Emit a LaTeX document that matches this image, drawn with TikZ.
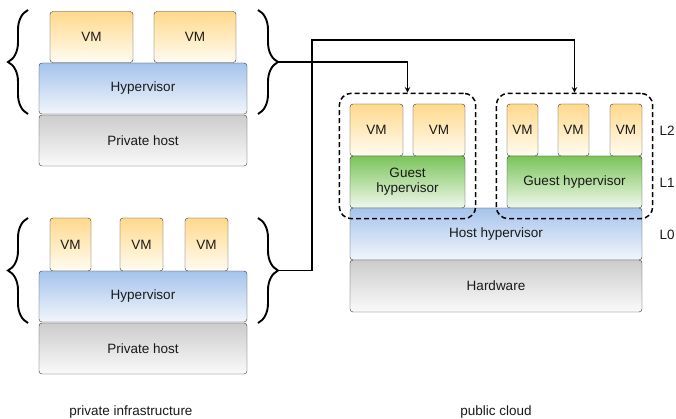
\documentclass[tikz,border=0pt]{standalone}
\usepackage{fontspec}
\setmainfont{Liberation Sans}
\usetikzlibrary{fit,decorations.pathreplacing}

\definecolor{vmtop}{HTML}{FFD98C}
\definecolor{vmbot}{HTML}{FFFCF2}
\definecolor{hyptop}{HTML}{A6C3EC}
\definecolor{hypbot}{HTML}{F2F6FC}
\definecolor{hosttop}{HTML}{CCCCCC}
\definecolor{hostbot}{HTML}{FAFAFA}
\definecolor{guesttop}{HTML}{7BC45A}
\definecolor{guestbot}{HTML}{F0F8EC}

\begin{document}
\begin{tikzpicture}[
    x=1pt, y=-1pt,
    every node/.style={font=\fontsize{13.5}{15}\selectfont, text=black!90},
    block/.style={rectangle, draw=black!80, rounded corners=3pt, align=center, inner sep=0pt, minimum height=51pt},
    vm/.style={block, top color=vmtop, bottom color=vmbot},
    hyp/.style={block, top color=hyptop, bottom color=hypbot},
    host/.style={block, top color=hosttop, bottom color=hostbot},
    guest/.style={block, top color=guesttop, bottom color=guestbot},
    dashbox/.style={draw, dash pattern=on 5pt off 3pt, line width=1.5pt, rounded corners=12pt, inner sep=10.5pt},
    curly/.style={decorate, decoration={brace, amplitude=20pt}, line width=1.9pt},
    arrow/.style={->, >=stealth, line width=1.4pt}
]
\useasboundingbox (0,0) rectangle (676,419);

% Top group: private host with two VMs
\node[vm, minimum width=83pt] (vma1) at (91.5,37) {VM};
\node[vm, minimum width=82pt] (vma2) at (195,37) {VM};
\node[hyp, minimum width=208pt] (hypa) at (143,88.5) {Hypervisor};
\node[host, minimum width=208pt] (hosta) at (143,140.5) {Private host};
\draw[curly] (28,114) -- (28,10);
\draw[curly] (258,10) -- (258,114);
\coordinate (tipa) at (278,62);

% Bottom group: private host with three VMs
\node[vm, minimum width=41pt, minimum height=53pt] (vmb1) at (70.5,244.5) {VM};
\node[vm, minimum width=43pt, minimum height=53pt] (vmb2) at (141.5,244.5) {VM};
\node[vm, minimum width=43pt, minimum height=53pt] (vmb3) at (206.5,244.5) {VM};
\node[hyp, minimum width=208pt] (hypb) at (143,296.5) {Hypervisor};
\node[host, minimum width=208pt] (hostb) at (143,348.5) {Private host};
\draw[curly] (28,323) -- (28,218);
\draw[curly] (258,218) -- (258,323);
\coordinate (tipb) at (278,270.5);

% Public cloud: nested virtualization
\node[vm, minimum width=53pt, minimum height=52pt] (vmc1) at (376.5,130) {VM};
\node[vm, minimum width=52pt, minimum height=52pt] (vmc2) at (439,130) {VM};
\node[guest, minimum width=115pt, minimum height=52pt] (guestc) at (407.5,182) {Guest\\hypervisor};
\node[vm, minimum width=31pt, minimum height=52pt] (vmd1) at (522.5,130) {VM};
\node[vm, minimum width=31pt, minimum height=52pt] (vmd2) at (573.5,130) {VM};
\node[vm, minimum width=32pt, minimum height=52pt] (vmd3) at (626,130) {VM};
\node[guest, minimum width=135pt, minimum height=52pt] (guestd) at (574.5,182) {Guest hypervisor};
\node[hyp, minimum width=292pt, minimum height=52pt] (hosthyp) at (496,234) {Host hypervisor};
\node[host, minimum width=292pt, minimum height=52pt] (hw) at (496,286) {Hardware};

% Dashed groups on top of the host hypervisor
\node[dashbox, fit=(vmc1) (vmc2) (guestc)] (gboxc) {};
\node[dashbox, fit=(vmd1) (vmd3) (guestd)] (gboxd) {};

% Layer labels
\node[anchor=west] (ltwo) at (656,131) {L2};
\node[anchor=west] (lone) at (656,183) {L1};
\node[anchor=west] (lzero) at (656,235) {L0};

% Captions
\node (privcap) at (131,412) {private infrastructure};
\node (pubcap) at (496,412) {public cloud};

% Arrows - migration into the cloud
\draw[arrow] (tipa) -| (gboxc.north);
\draw[arrow] (tipb) -| (312,40) -| (gboxd.north);

\end{tikzpicture}
\end{document}
